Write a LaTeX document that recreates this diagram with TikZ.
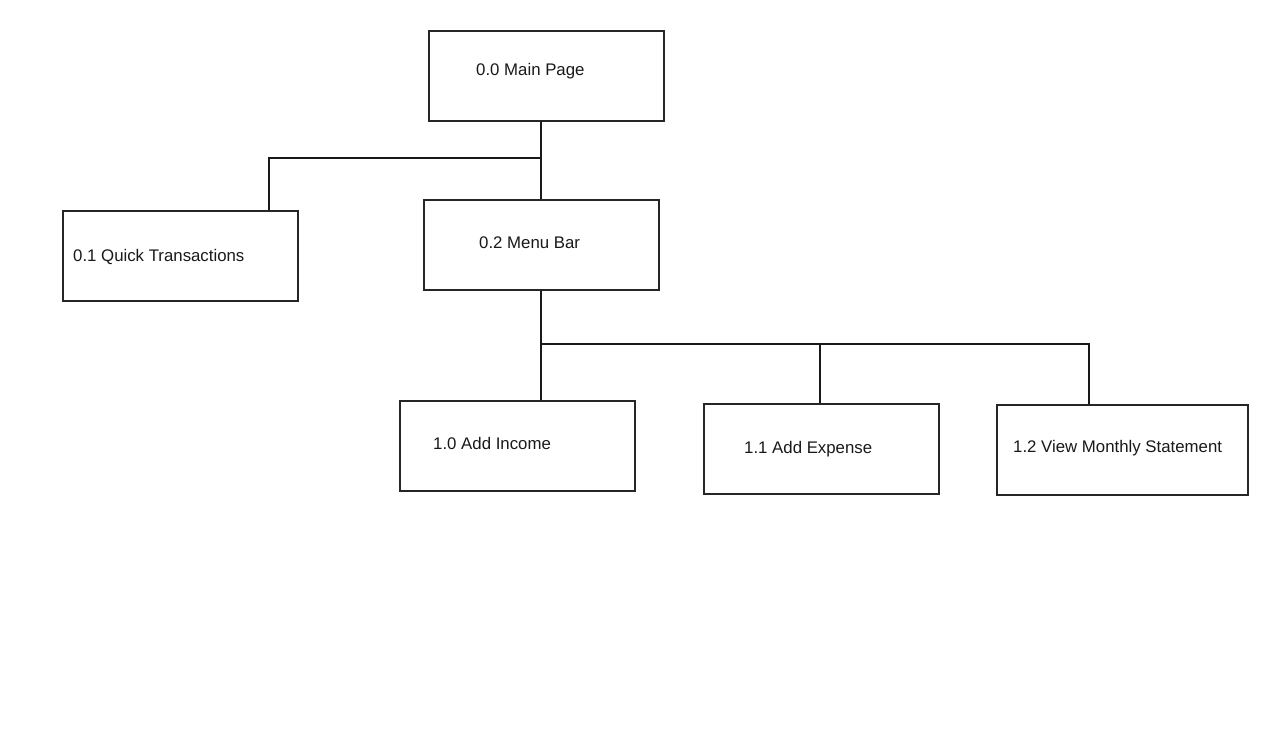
\documentclass[tikz,border=0pt]{standalone}
\usepackage{fontspec}
\setmainfont{Liberation Sans}
\begin{document}
\begin{tikzpicture}[x=1pt,y=-1pt,
  box/.style={draw=black!85, line width=2pt, minimum width=#1, minimum height=90pt, inner sep=0pt, anchor=north west},
  box/.default=235pt,
  lbl/.style={anchor=west, inner sep=0pt, font=\fontsize{16.8}{19}\selectfont, text=black!90},
  link/.style={draw=black!90, line width=2pt}
]
\useasboundingbox[fill=white] (0,0) rectangle (1280,731);

% boxes (top-left corner, width)
\node[box] (main)  at (428,29.5) {};
\node[box] (quick) at (62,209.5) {};
\node[box] (menu)  at (423,198.5) {};
\node[box] (inc)   at (399,399.5) {};
\node[box] (exp)   at (703,402.5) {};
\node[box=251pt] (stmt) at (996,403.5) {};

% labels
\node[lbl] (tmain)  at (476,71)  {0.0 Main Page};
\node[lbl] (tquick) at (73,257)  {0.1 Quick Transactions};
\node[lbl] (tmenu)  at (479,243) {0.2 Menu Bar};
\node[lbl] (tinc)   at (433,443) {1.0 Add Income};
\node[lbl] (texp)   at (744,449) {1.1 Add Expense};
\node[lbl] (tstmt)  at (1013,448) {1.2 View Monthly Statement};

% junction points
\coordinate (j1) at (541,158);
\coordinate (j2) at (541,344);

% main page to its children
\draw[link] (main.south -| j1) -- (menu.north -| j1);
\draw[link] (j1) -| (269,0 |- quick.north);
% menu bar to its children
\draw[link] (menu.south -| j2) -- (inc.north -| j2);
\draw[link] (j2) -| (exp.north -| 820,0);
\draw[link] (j2) -| (stmt.north -| 1089,0);
\end{tikzpicture}
\end{document}
